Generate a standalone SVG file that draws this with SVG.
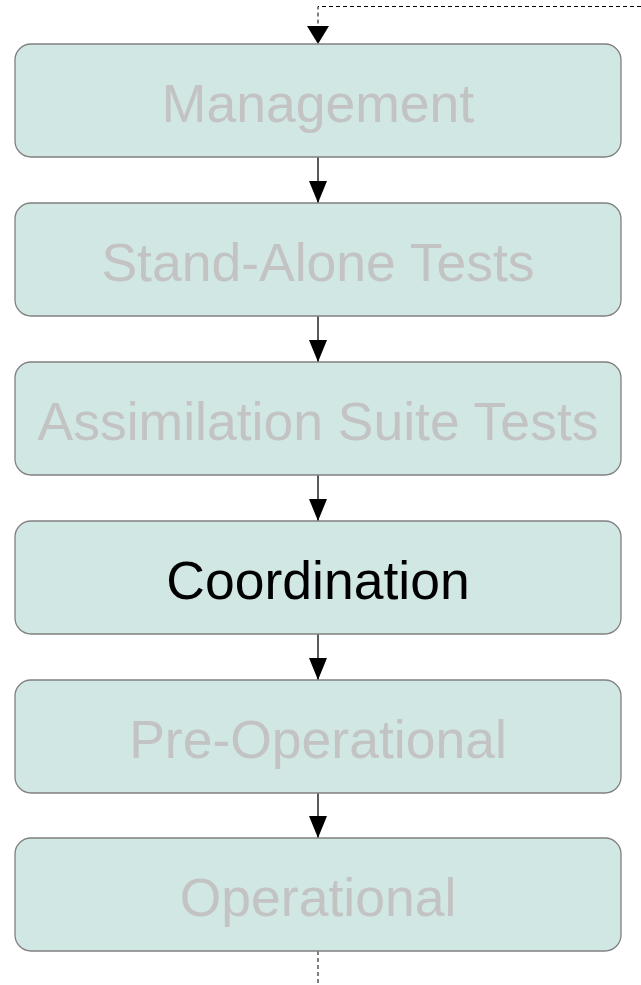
<svg xmlns="http://www.w3.org/2000/svg" width="641" height="985" viewBox="0 0 641 985">
  <style>
    .box { fill: #d0e7e4; stroke: #808080; stroke-width: 1.3; }
    .label { font-family: "Liberation Sans", Arial, sans-serif; font-size: 53.5px; text-anchor: middle; fill: #c3c3c3; }
    .label.active { fill: #000000; }
    .link { stroke: #000000; stroke-width: 1.3; fill: none; }
    .dash { stroke: #000000; stroke-width: 1; fill: none; stroke-dasharray: 4 3; }
  </style>
  <defs>
    <marker id="arrow" markerWidth="22" markerHeight="18" refX="22" refY="9" orient="auto" markerUnits="userSpaceOnUse">
      <path d="M0,0 L22,9 L0,18 Z" fill="#000000"/>
    </marker>
  </defs>
  <rect width="641" height="985" fill="#ffffff"/>

  <g id="connectors">
    <path class="dash" d="M641,6.5 H318 V26" />
    <path d="M307,26 L329,26 L318,44 Z" fill="#000000"/>
    <line class="link" x1="318" y1="157" x2="318" y2="203" marker-end="url(#arrow)"/>
    <line class="link" x1="318" y1="316" x2="318" y2="362" marker-end="url(#arrow)"/>
    <line class="link" x1="318" y1="475" x2="318" y2="521" marker-end="url(#arrow)"/>
    <line class="link" x1="318" y1="634" x2="318" y2="680" marker-end="url(#arrow)"/>
    <line class="link" x1="318" y1="793" x2="318" y2="838" marker-end="url(#arrow)"/>
    <path class="dash" d="M318,951 V985" />
  </g>

  <g id="management">
    <rect class="box" x="15" y="44" width="606" height="113" rx="16"/>
    <text class="label" x="318" y="122">Management</text>
  </g>
  <g id="stand-alone-tests">
    <rect class="box" x="15" y="203" width="606" height="113" rx="16"/>
    <text class="label" x="318" y="281">Stand-Alone Tests</text>
  </g>
  <g id="assimilation-suite-tests">
    <rect class="box" x="15" y="362" width="606" height="113" rx="16"/>
    <text class="label" x="318" y="440">Assimilation Suite Tests</text>
  </g>
  <g id="coordination">
    <rect class="box" x="15" y="521" width="606" height="113" rx="16"/>
    <text class="label active" x="318" y="599">Coordination</text>
  </g>
  <g id="pre-operational">
    <rect class="box" x="15" y="680" width="606" height="113" rx="16"/>
    <text class="label" x="318" y="758">Pre-Operational</text>
  </g>
  <g id="operational">
    <rect class="box" x="15" y="838" width="606" height="113" rx="16"/>
    <text class="label" x="318" y="916">Operational</text>
  </g>
</svg>
